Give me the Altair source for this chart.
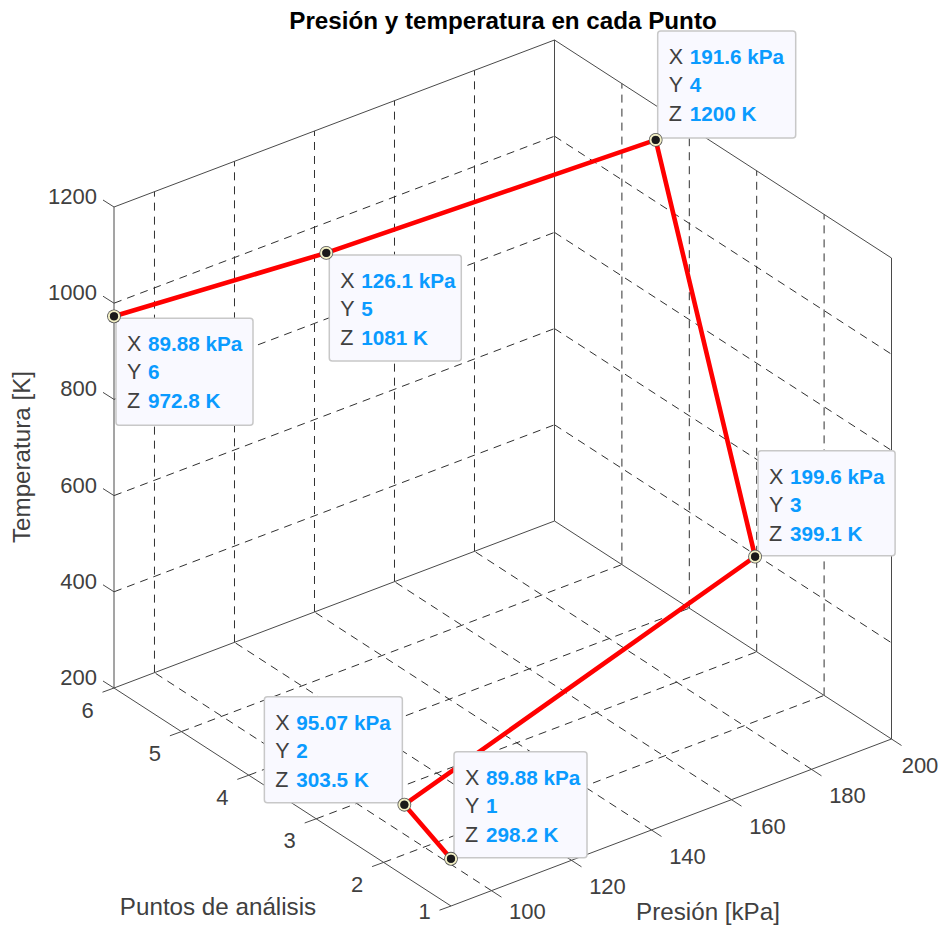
import altair as alt
import pandas as pd

# ---- data ----
presion = [89.88, 95.07, 199.6, 191.6, 126.1, 89.88]
puntos = [1, 2, 3, 4, 5, 6]
temperatura = [298.2, 303.5, 399.1, 1200, 1081, 972.8]
x_text = ["89.88 kPa", "95.07 kPa", "199.6 kPa", "191.6 kPa", "126.1 kPa", "89.88 kPa"]
y_text = ["1", "2", "3", "4", "5", "6"]
z_text = ["298.2 K", "303.5 K", "399.1 K", "1200 K", "1081 K", "972.8 K"]
x_ticks = [100, 120, 140, 160, 180, 200]
y_ticks = [1, 2, 3, 4, 5, 6]
z_ticks = [200, 400, 600, 800, 1000, 1200]

# ---- view: orthographic projection of the 3D box onto the page ----
XMIN, XMAX, YMIN, YMAX, ZMIN, ZMAX = 89.88, 200, 1, 6, 200, 1200
ORIGIN = (451.0, 906.0)
XVEC = (440.5, -167.0)
YVEC = (-337.0, -218.0)
ZVEC = (0.0, -481.0)
W, H = 931, 918
RIGHT, BOTTOM = 8 + W, 8 + H


def proj(x, y, z):
    a = (x - XMIN) / (XMAX - XMIN)
    b = (y - YMIN) / (YMAX - YMIN)
    c = (z - ZMIN) / (ZMAX - ZMIN)
    return (
        ORIGIN[0] + a * XVEC[0] + b * YVEC[0] + c * ZVEC[0],
        ORIGIN[1] + a * XVEC[1] + b * YVEC[1] + c * ZVEC[1],
    )


def seg(p, q):
    a, b = proj(*p), proj(*q)
    return dict(x=a[0], y=a[1], x2=b[0], y2=b[1])


sx = alt.Scale(domain=[8, RIGHT], nice=False, zero=False)
sy = alt.Scale(domain=[BOTTOM, 8], nice=False, zero=False)
X = alt.X("x:Q", scale=sx, axis=None)
Y = alt.Y("y:Q", scale=sy, axis=None)


def rules(segs, **kw):
    return alt.Chart(pd.DataFrame(segs)).mark_rule(**kw).encode(
        x=X, y=Y, x2="x2:Q", y2="y2:Q"
    )


def texts(rows, **kw):
    return alt.Chart(pd.DataFrame(rows)).mark_text(
        font="Liberation Sans", **kw
    ).encode(x=X, y=Y, text="t:N")


# grid
grid = []
for v in x_ticks[:-1]:
    grid.append(seg((v, YMIN, ZMIN), (v, YMAX, ZMIN)))
    grid.append(seg((v, YMAX, ZMIN), (v, YMAX, ZMAX)))
for v in y_ticks[1:-1]:
    grid.append(seg((XMIN, v, ZMIN), (XMAX, v, ZMIN)))
    grid.append(seg((XMAX, v, ZMIN), (XMAX, v, ZMAX)))
for v in z_ticks[1:-1]:
    grid.append(seg((XMIN, YMAX, v), (XMAX, YMAX, v)))
    grid.append(seg((XMAX, YMAX, v), (XMAX, YMIN, v)))

# box edges
box = [
    seg((XMIN, YMIN, ZMIN), (XMAX, YMIN, ZMIN)),
    seg((XMIN, YMIN, ZMIN), (XMIN, YMAX, ZMIN)),
    seg((XMIN, YMAX, ZMIN), (XMAX, YMAX, ZMIN)),
    seg((XMAX, YMAX, ZMIN), (XMAX, YMIN, ZMIN)),
    seg((XMIN, YMAX, ZMIN), (XMIN, YMAX, ZMAX)),
    seg((XMAX, YMAX, ZMIN), (XMAX, YMAX, ZMAX)),
    seg((XMAX, YMIN, ZMIN), (XMAX, YMIN, ZMAX)),
    seg((XMIN, YMAX, ZMAX), (XMAX, YMAX, ZMAX)),
    seg((XMAX, YMAX, ZMAX), (XMAX, YMIN, ZMAX)),
]

# ticks; labels near the canvas edge are kept inside it
TICK_X, TICK_Y, TICK_Z = (10, 6.5), (-11.5, 4.2), (-11, -7)
ticks = []
xlab, ylab, zlab = [], [], []
for v in x_ticks:
    a = proj(v, YMIN, ZMIN)
    ticks.append(dict(x=a[0], y=a[1], x2=a[0] + TICK_X[0], y2=a[1] + TICK_X[1]))
    xlab.append(dict(x=min(a[0] + 36, RIGHT - 19), y=min(a[1] + 27, BOTTOM - 14), t=str(v)))
for v in y_ticks:
    a = proj(XMIN, v, ZMIN)
    ticks.append(dict(x=a[0], y=a[1], x2=a[0] + TICK_Y[0], y2=a[1] + TICK_Y[1]))
    ylab.append(dict(x=a[0] - 26.5, y=min(a[1] + 22.5, BOTTOM - 14), t=str(v)))
for v in z_ticks:
    a = proj(XMIN, YMAX, v)
    ticks.append(dict(x=a[0], y=a[1], x2=a[0] + TICK_Z[0], y2=a[1] + TICK_Z[1]))
    zlab.append(dict(x=a[0] - 17, y=a[1] - 10, t=str(v)))

GRAY = "#404040"
layers = [
    rules(grid, color="#303030", strokeWidth=1, strokeDash=[8, 6]),
    rules(box, color="#4a4a4a", strokeWidth=1),
    rules(ticks, color="#4a4a4a", strokeWidth=1),
]

tick_style = dict(color=GRAY, fontSize=22, baseline="middle")
title_style = dict(color=GRAY, fontSize=24.2, baseline="middle")
layers += [
    texts(xlab, align="center", **tick_style),
    texts(ylab, align="center", **tick_style),
    texts(zlab, align="right", **tick_style),
    texts([dict(x=218, y=908, t="Puntos de análisis")], align="center", **title_style),
    texts([dict(x=708, y=min(921, BOTTOM - 13), t="Presión [kPa]")], align="center", **title_style),
    texts([dict(x=23, y=457, t="Temperatura [K]")], align="center", angle=270, **title_style),
    texts([dict(x=503, y=22, t="Presión y temperatura en cada Punto")],
          align="center", baseline="middle", color="#000000", fontSize=24.2, fontWeight="bold"),
]

# the curve
pts = [proj(a, b, c) for a, b, c in zip(presion, puntos, temperatura)]
curve = pd.DataFrame({"x": [p[0] for p in pts], "y": [p[1] for p in pts], "i": puntos})
layers.append(
    alt.Chart(curve).mark_line(color="#ff0000", strokeWidth=4.6, strokeCap="round").encode(
        x=X, y=Y, order="i:Q"
    )
)

# data tips: box corners relative to their point (left, top, right, bottom)
tip_boxes = [
    (3, -107, 136, -1),
    (-140, -108, -2, -2),
    (3, -106, 140, -1),
    (2, -109, 140, -2),
    (3, 2, 135, 108),
    (2, 2, 139, 109),
]
boxes, rows_lab, rows_val = [], [], []
for p, b, xs, ys, zs in zip(pts, tip_boxes, x_text, y_text, z_text):
    l, t, r, bt = p[0] + b[0], p[1] + b[1], p[0] + b[2], p[1] + b[3]
    boxes.append(dict(x=l, y=t, x2=r, y2=bt))
    for name, val, dy in zip("XYZ", (xs, ys, zs), (27, 55, 84)):
        rows_lab.append(dict(x=l + 11, y=t + dy, t=name))
        rows_val.append(dict(x=l + 32, y=t + dy, t=val))

layers.append(
    alt.Chart(pd.DataFrame(boxes)).mark_rect(
        fill="#f9f9ff", stroke="#c8c8c8", strokeWidth=1.5, cornerRadius=3
    ).encode(x=X, y=Y, x2="x2:Q", y2="y2:Q")
)
layers.append(texts(rows_lab, align="left", baseline="middle", color=GRAY, fontSize=21.5))
layers.append(texts(rows_val, align="left", baseline="middle", color="#0a9bff",
                    fontSize=20.7, fontWeight="bold"))

# markers
layers.append(
    alt.Chart(curve).mark_point(
        shape="circle", filled=True, size=190, color="#555555", opacity=1
    ).encode(x=X, y=Y)
)
layers.append(
    alt.Chart(curve).mark_point(
        shape="circle", filled=False, size=105, color="#f2efc4", strokeWidth=2, opacity=1
    ).encode(x=X, y=Y)
)
layers.append(
    alt.Chart(curve).mark_point(
        shape="circle", filled=True, size=65, color="#1a1a1a", opacity=1
    ).encode(x=X, y=Y)
)

chart = alt.layer(*layers).properties(
    width=W, height=H, padding=0, autosize=alt.AutoSizeParams(type="none"), background="white"
).configure_view(stroke=None)

chart.save("out.html", embed_options={"renderer": "svg", "actions": False})
